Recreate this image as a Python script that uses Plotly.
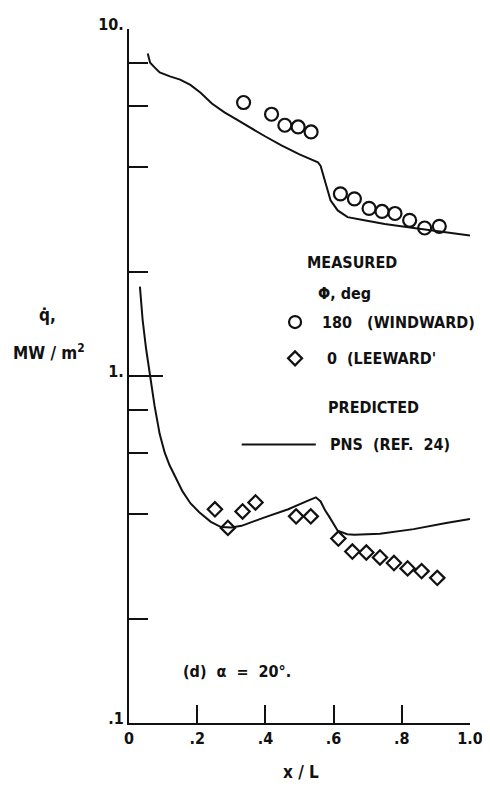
import plotly.graph_objects as go

# ---- data ----
# Measured, windward (phi = 180 deg)
wind_x = [0.336, 0.418, 0.457, 0.496, 0.534,
          0.620, 0.661, 0.704, 0.742, 0.780, 0.823, 0.867, 0.910]
wind_q = [6.14, 5.68, 5.28, 5.22, 5.05,
          3.35, 3.24, 3.04, 2.98, 2.94, 2.81, 2.67, 2.70]

# Measured, leeward (phi = 0 deg)
lee_x = [0.252, 0.290, 0.333, 0.371, 0.490, 0.533,
         0.614, 0.655, 0.696, 0.736, 0.777, 0.817, 0.858, 0.904]
lee_q = [0.413, 0.365, 0.407, 0.432, 0.394, 0.394,
         0.340, 0.312, 0.310, 0.300, 0.289, 0.279, 0.274, 0.262]

# Predicted PNS (Ref. 24), windward
pns_wind_x = [0.055, 0.062, 0.075, 0.09, 0.12, 0.15, 0.18, 0.21, 0.243, 0.28,
              0.32, 0.351, 0.40, 0.447, 0.50, 0.554, 0.562, 0.577, 0.591,
              0.612, 0.641, 0.690, 0.75, 0.835, 0.93, 1.0]
pns_wind_q = [8.5, 8.0, 7.75, 7.5, 7.3, 7.15, 6.9, 6.55, 6.1, 5.75,
              5.45, 5.22, 4.9, 4.62, 4.35, 4.13, 4.03, 3.58, 3.21,
              3.0, 2.87, 2.81, 2.74, 2.67, 2.60, 2.54]

# Predicted PNS (Ref. 24), leeward
pns_lee_x = [0.032, 0.04, 0.05, 0.061, 0.075, 0.09, 0.105, 0.119, 0.14, 0.157,
             0.18, 0.206, 0.24, 0.27, 0.30, 0.33, 0.40, 0.467, 0.52, 0.548,
             0.562, 0.575, 0.588, 0.612, 0.64, 0.661, 0.736, 0.835, 0.93, 1.0]
pns_lee_q = [1.81, 1.45, 1.2, 1.0, 0.82, 0.68, 0.6, 0.553, 0.5, 0.465,
             0.43, 0.405, 0.38, 0.367, 0.366, 0.37, 0.392, 0.413, 0.435, 0.447,
             0.435, 0.41, 0.392, 0.358, 0.35, 0.349, 0.351, 0.362, 0.377, 0.387]

x_tickvals = [0, 0.2, 0.4, 0.6, 0.8, 1.0]
x_ticktext = ["0", ".2", ".4", ".6", ".8", "1.0"]
y_tickvals = [0.1, 1, 10]
y_ticktext = [".1", "1.", "10."]
y_minorvals = [0.2, 0.4, 0.6, 0.8, 2, 4, 6, 8]

FONT = "DejaVu Sans Condensed, DejaVu Sans, sans-serif"
BLACK = "#111111"

fig = go.Figure()

fig.add_trace(go.Scatter(x=pns_wind_x, y=pns_wind_q, mode="lines",
                         line=dict(color=BLACK, width=2), showlegend=False))
fig.add_trace(go.Scatter(x=pns_lee_x, y=pns_lee_q, mode="lines",
                         line=dict(color=BLACK, width=2), showlegend=False))
fig.add_trace(go.Scatter(x=wind_x, y=wind_q, mode="markers",
                         marker=dict(symbol="circle-open", size=13,
                                     color=BLACK, line=dict(width=2.2)),
                         showlegend=False))
fig.add_trace(go.Scatter(x=lee_x, y=lee_q, mode="markers",
                         marker=dict(symbol="diamond-open", size=11,
                                     color=BLACK, line=dict(width=2.2)),
                         showlegend=False))

# page body has an 8px margin; screen plot area is x 129..474, y 15..723
OFF = 8
W, H = 482, 782
SX0, SX1, SY0, SY1 = 129, 474, 15, 723
L, R = SX0 - OFF, (OFF + W) - SX1
T, B = SY0 - OFF, (OFF + H) - SY1
pw, ph = SX1 - SX0, SY1 - SY0


def px(x):
    return (x - SX0) / pw


def py(y):
    return (SY1 - y) / ph


def ann(text, x, y, size=16, xanchor="left", bold=True):
    fig.add_annotation(text=("<b>%s</b>" % text) if bold else text,
                       x=px(x), y=py(y), xref="paper", yref="paper",
                       xanchor=xanchor, yanchor="middle", showarrow=False,
                       font=dict(family=FONT, size=size, color=BLACK))


# legend (manual)
ann("MEASURED", 307, 253)
ann("Φ, deg", 318, 285)
ann("180   (WINDWARD)", 322, 314)
ann("0  (LEEWARD'", 327, 351)
ann("PREDICTED", 328, 401)
ann("PNS  (REF.  24)", 330, 439)
ann("(d)  α  =  20°.", 182, 670)

# axis titles
ann("q̇,", 47, 307, size=17, xanchor="center")
ann("MW / m<sup>2</sup>", 48, 345, size=17, xanchor="center")
ann("x / L", 303, 773, size=17, xanchor="center")

# legend keys
fig.add_shape(type="circle", xref="paper", yref="paper",
              xsizemode="pixel", ysizemode="pixel",
              xanchor=px(297), yanchor=py(314),
              x0=-6, x1=6, y0=-6, y1=6, line=dict(color=BLACK, width=2.2))
fig.add_shape(type="path", xref="paper", yref="paper",
              xsizemode="pixel", ysizemode="pixel",
              xanchor=px(297), yanchor=py(351),
              path="M -7 0 L 0 7 L 7 0 L 0 -7 Z",
              line=dict(color=BLACK, width=2.2))
fig.add_shape(type="line", xref="paper", yref="paper",
              x0=px(243), x1=px(318), y0=py(439), y1=py(439),
              line=dict(color=BLACK, width=2))

tickfont = dict(family=FONT, size=16, color=BLACK, weight="bold")

fig.update_layout(
    width=W, height=H,
    margin=dict(l=L, r=R, t=T, b=B, pad=0),
    paper_bgcolor="white", plot_bgcolor="white",
    showlegend=False,
    xaxis=dict(range=[0, 1], tickvals=x_tickvals, ticktext=x_ticktext,
               ticks="inside", ticklen=18, tickwidth=2, tickcolor=BLACK,
               showline=True, linewidth=2, linecolor=BLACK,
               showgrid=False, zeroline=False, tickfont=tickfont,
               ticklabeloverflow="allow"),
    yaxis=dict(type="log", range=[-1, 1], tickvals=y_tickvals,
               ticktext=y_ticktext,
               ticks="inside", ticklen=34, tickwidth=2, tickcolor=BLACK,
               minor=dict(tickvals=y_minorvals, ticks="inside", ticklen=19,
                          tickwidth=2, tickcolor=BLACK, showgrid=False),
               showline=True, linewidth=2, linecolor=BLACK,
               showgrid=False, zeroline=False, tickfont=tickfont,
               ticklabeloverflow="allow", ticklabelshift=-5),
)

fig.write_html("out.html")
